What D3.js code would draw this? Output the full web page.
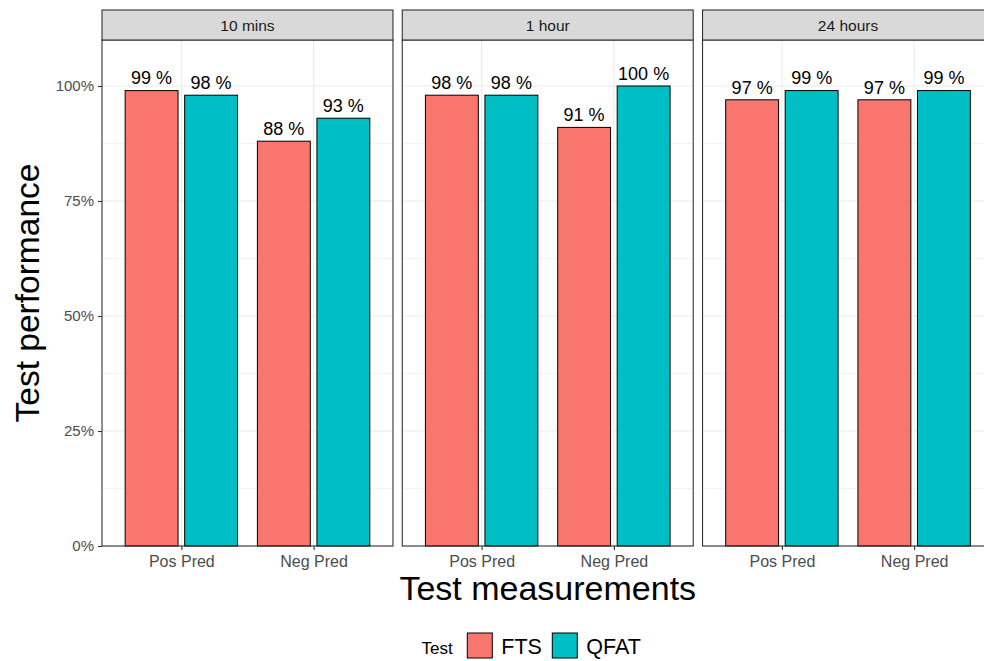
<!DOCTYPE html>
<html>
<head>
<meta charset="utf-8">
<script src="https://cdn.jsdelivr.net/npm/d3@7"></script>
<style>
  html, body { margin: 0; padding: 0; background: #fff; }
  svg { display: block; font-family: "Liberation Sans", Arial, sans-serif; }
</style>
</head>
<body>
<svg id="chart" width="984" height="661"></svg>
<script>
// ---- data ----
const facets = ["10 mins", "1 hour", "24 hours"];
const measures = ["Pos Pred", "Neg Pred"];
const tests = ["FTS", "QFAT"];
// values ordered facet by facet: [Pos Pred, Neg Pred]
const ftsValues  = [99, 88, 98, 91, 97, 97];
const qfatValues = [98, 93, 98, 100, 99, 99];
const yTicks = [0, 0.25, 0.5, 0.75, 1];
const yMinor = [0.125, 0.375, 0.625, 0.875];
const colors = ["#F8766D", "#00BFC4"];

const rows = [];
facets.forEach((f, fi) => measures.forEach((m, mi) => {
  rows.push({facet: f, measure: m, test: "FTS", value: ftsValues[fi * 2 + mi]});
  rows.push({facet: f, measure: m, test: "QFAT", value: qfatValues[fi * 2 + mi]});
}));

// ---- layout ----
const svg = d3.select("#chart");
const panelTop = 40, panelBottom = 546, stripTop = 10;
const fx = d3.scaleBand().domain(facets).range([102, 993.5]).paddingInner(0.031);
const pw = fx.bandwidth();
const x = d3.scalePoint().domain(measures).range([0, pw]).padding(0.6);
const step = x.step();
const dodge = d3.scaleBand().domain(tests).range([-0.45 * step, 0.45 * step]);
const barW = 0.4 * step;
const y = d3.scaleLinear().domain([0, 1.1]).range([panelBottom, panelTop]);
const color = d3.scaleOrdinal().domain(tests).range(colors);

const dark = "#333333";

facets.forEach(f => {
  const g = svg.append("g").attr("transform", `translate(${fx(f)},0)`);
  g.append("rect").attr("x", 0).attr("y", panelTop).attr("width", pw)
    .attr("height", panelBottom - panelTop).attr("fill", "#fff");
  g.selectAll(".ymin").data(yMinor).join("line")
    .attr("x1", 0).attr("x2", pw).attr("y1", d => y(d)).attr("y2", d => y(d))
    .attr("stroke", "#EBEBEB").attr("stroke-width", 0.6);
  g.selectAll(".ymaj").data(yTicks).join("line")
    .attr("x1", 0).attr("x2", pw).attr("y1", d => y(d)).attr("y2", d => y(d))
    .attr("stroke", "#EBEBEB").attr("stroke-width", 1.1);
  g.selectAll(".xmaj").data(measures).join("line")
    .attr("x1", d => x(d)).attr("x2", d => x(d)).attr("y1", panelTop).attr("y2", panelBottom)
    .attr("stroke", "#EBEBEB").attr("stroke-width", 1.1);

  const data = rows.filter(r => r.facet === f);
  g.selectAll(".bar").data(data).join("rect")
    .attr("x", d => x(d.measure) + dodge(d.test) + dodge.bandwidth() / 2 - barW / 2)
    .attr("width", barW)
    .attr("y", d => y(d.value / 100))
    .attr("height", d => y(0) - y(d.value / 100))
    .attr("fill", d => color(d.test))
    .attr("stroke", "#000").attr("stroke-width", 1);
  g.selectAll(".lab").data(data).join("text")
    .attr("x", d => x(d.measure) + dodge(d.test) + dodge.bandwidth() / 2)
    .attr("y", d => y(d.value / 100) - 6.3)
    .attr("text-anchor", "middle")
    .attr("font-size", 18).attr("fill", "#000")
    .text(d => d.value + " %");

  g.append("rect").attr("x", 0).attr("y", panelTop).attr("width", pw)
    .attr("height", panelBottom - panelTop).attr("fill", "none")
    .attr("stroke", dark).attr("stroke-width", 1.1);
  g.append("rect").attr("x", 0).attr("y", stripTop).attr("width", pw)
    .attr("height", panelTop - stripTop).attr("fill", "#D9D9D9")
    .attr("stroke", dark).attr("stroke-width", 1.1);
  g.append("text").attr("x", pw / 2).attr("y", 30.5).attr("text-anchor", "middle")
    .attr("font-size", 15.5).attr("fill", "#1A1A1A").text(f);

  const xa = g.append("g").attr("transform", `translate(0,${panelBottom})`)
    .call(d3.axisBottom(x).tickSize(4).tickPadding(4));
  xa.select(".domain").remove();
  xa.selectAll(".tick line").attr("stroke", dark).attr("stroke-width", 1.1);
  xa.selectAll(".tick text").attr("font-size", 16).attr("fill", "#4D4D4D")
    .attr("font-family", "Liberation Sans, Arial, sans-serif")
    .attr("dy", null).attr("y", 21);
});

const ya = svg.append("g").attr("transform", `translate(${fx(facets[0])},0)`)
  .call(d3.axisLeft(y).tickValues(yTicks).tickFormat(d3.format(".0%")).tickSize(4).tickPadding(4));
ya.select(".domain").remove();
ya.selectAll(".tick line").attr("stroke", dark).attr("stroke-width", 1.1);
ya.selectAll(".tick text").attr("font-size", 15).attr("fill", "#4D4D4D")
  .attr("font-family", "Liberation Sans, Arial, sans-serif");

const xMid = (fx(facets[0]) + fx(facets[2]) + pw) / 2;
svg.append("text").attr("x", xMid).attr("y", 600).attr("text-anchor", "middle")
  .attr("font-size", 34).attr("fill", "#000").text("Test measurements");
svg.append("text").attr("transform", `translate(39,${(panelTop + panelBottom) / 2}) rotate(-90)`)
  .attr("text-anchor", "middle").attr("font-size", 33.5).attr("fill", "#000").text("Test performance");

const lg = svg.append("g");
lg.append("text").attr("x", 421.5).attr("y", 654).attr("font-size", 17).attr("fill", "#000").text("Test");
const keyX = [467.3, 552.3];
tests.forEach((t, i) => {
  lg.append("rect").attr("x", keyX[i]).attr("y", 633).attr("width", 25).attr("height", 25)
    .attr("fill", color(t)).attr("stroke", "#000").attr("stroke-width", 1);
  lg.append("text").attr("x", keyX[i] + 34).attr("y", 654).attr("font-size", 21.5)
    .attr("fill", "#000").text(t);
});
</script>
</body>
</html>
